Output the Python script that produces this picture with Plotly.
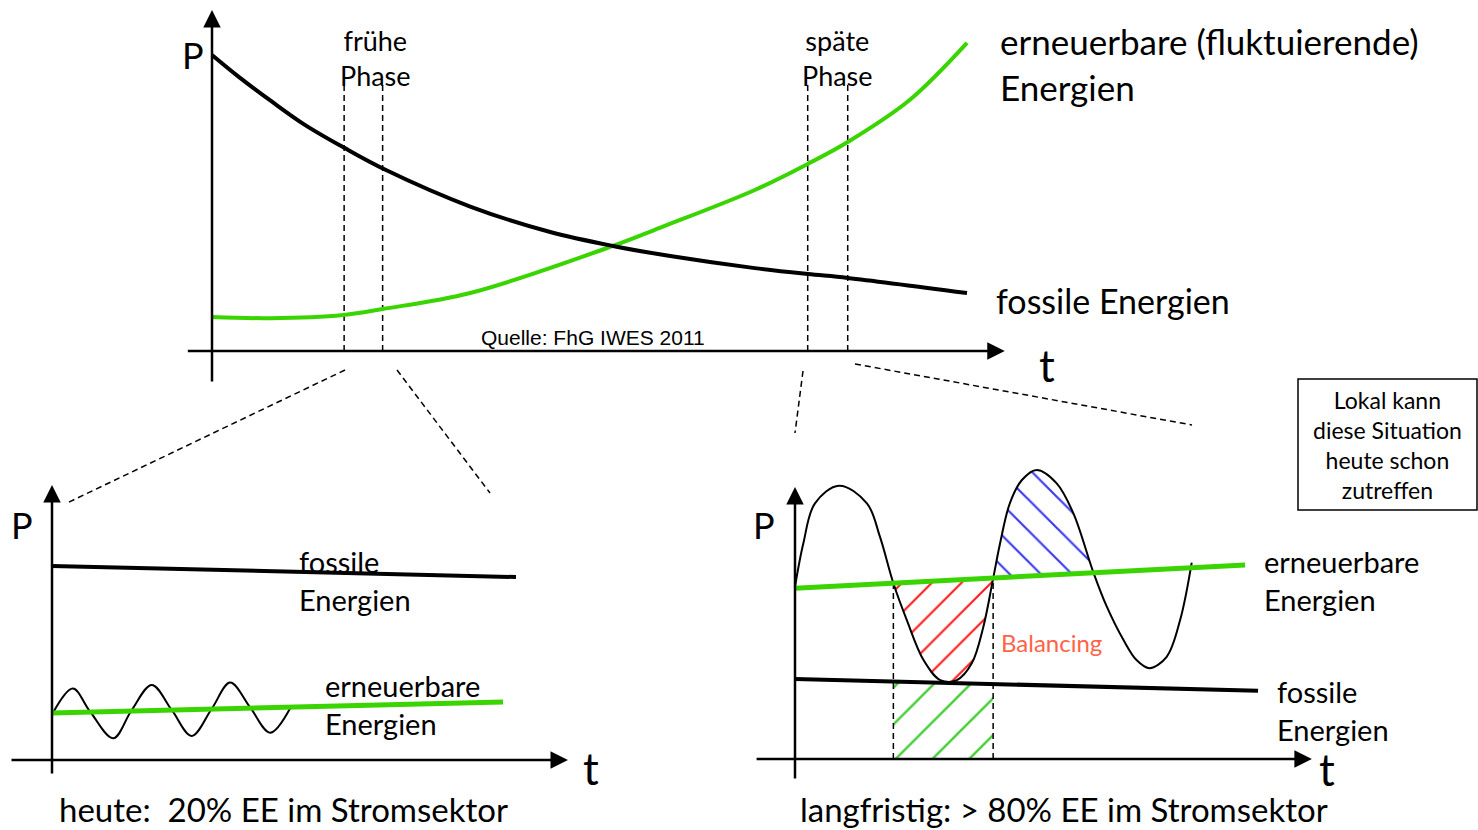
import numpy as np
import plotly.graph_objects as go

W, H = 1478, 830
FONT = "Lato"
GREEN = "#3AD400"

# ---------------- data ----------------
# top panel (long-term development)
top_t_ren = [0, 0.77, 1.74, 2.26, 3.42, 5.31, 5.93, 7.19, 7.89, 8.42, 9.24, 10.0]
top_p_ren = [1.15, 1.11, 1.22, 1.42, 1.96, 3.55, 4.16, 5.44, 6.32, 7.06, 8.48, 10.41]
top_t_fos = [0, 0.35, 0.79, 1.23, 1.74, 2.29, 3.42, 4.48, 5.31, 6.07, 7.19, 7.89, 8.42, 10.0]
top_p_fos = [10.0, 9.27, 8.43, 7.64, 6.88, 6.13, 4.88, 4.02, 3.55, 3.21, 2.80, 2.60, 2.47, 1.96]
phase_early = [1.75, 2.26]
phase_late = [7.89, 8.42]
phase_top = 9.05

# bottom-left panel (today)
bl_t_fos = [0, 10.0]
bl_p_fos = [10.0, 9.43]
bl_t_ren = [0, 9.72]
bl_p_ren = [2.42, 2.99]
bl_t_wave = [0.02, 0.45, 0.82, 1.32, 1.71, 2.15, 2.58, 3.01, 3.44, 3.84, 4.27, 4.70, 5.13]
bl_p_wave = [2.42, 3.68, 2.50, 1.12, 2.54, 3.87, 2.58, 1.24, 2.63, 3.99, 2.71, 1.41, 2.66]

# bottom-right panel (long term)
br_t_fos = [0, 9.98]
br_p_fos = [4.12, 3.52]
br_t_ren = [0, 9.70]
br_p_ren = [8.80, 10.0]
br_t_wave = [0.00, 0.18, 0.43, 0.95, 1.55, 1.83, 2.12, 2.41, 2.77, 3.13, 3.49, 3.81, 4.06,
             4.27, 4.42, 4.63, 4.89, 5.21, 5.64, 6.00, 6.43, 6.72, 7.08, 7.36, 7.64, 8.01,
             8.30, 8.55]
br_p_wave = [8.88, 11.12, 13.18, 14.09, 13.18, 11.46, 9.06, 7.16, 5.10, 4.07, 4.07, 4.93, 6.82,
             9.30, 11.12, 13.18, 14.38, 14.90, 14.21, 12.66, 9.62, 7.85, 6.13, 5.10, 4.68, 5.27,
             7.16, 10.12]
deficit_range = [2.12, 4.27]   # red / balancing window
surplus_range = [4.27, 6.43]   # blue

# ---------------- layout geometry (pixels) ----------------
panels = {
    "top": dict(ox=212, oy=351, sx=75.5, sy=29.6, xa="x", ya="y"),
    "bl": dict(ox=52, oy=760, sx=46.4, sy=19.4, xa="x2", ya="y2"),
    "br": dict(ox=795, oy=759, sx=46.4, sy=19.4, xa="x3", ya="y3"),
}

fig = go.Figure()


def add_line(panel, t, p, color, width, shape="linear", dash=None, **kw):
    pn = panels[panel]
    fig.add_trace(go.Scatter(x=t, y=p, mode="lines", xaxis=pn["xa"], yaxis=pn["ya"],
                             line=dict(color=color, width=width, shape=shape, dash=dash,
                                       smoothing=1.0),
                             hoverinfo="skip", showlegend=False, **kw))


def text(panel, t, p, s, size, xanchor="center", color="black", family=FONT, yanchor="middle"):
    pn = panels[panel]
    fig.add_annotation(x=t, y=p, xref=pn["xa"], yref=pn["ya"], text=s, showarrow=False,
                       xanchor=xanchor, yanchor=yanchor, align=xanchor if xanchor != "center" else "center",
                       font=dict(family=family, size=size, color=color), borderpad=0)


def arrow(panel, t0, p0, t1, p1):
    pn = panels[panel]
    fig.add_annotation(x=t1, y=p1, ax=t0, ay=p0, xref=pn["xa"], yref=pn["ya"],
                       axref=pn["xa"], ayref=pn["ya"], showarrow=True, text="",
                       arrowhead=2, arrowsize=1.4, arrowwidth=2.5, arrowcolor="black", standoff=0)


# ---------------- top panel ----------------
for tp in phase_early + phase_late:
    add_line("top", [tp, tp], [0, phase_top], "black", 1.5, dash="6px,4px")
add_line("top", top_t_ren, top_p_ren, GREEN, 4, shape="spline")
add_line("top", top_t_fos, top_p_fos, "black", 4, shape="spline")
arrow("top", -0.34, 0, 10.50, 0)
arrow("top", 0, -1.08, 0, 11.52)
text("top", -0.25, 10.0, "P", 36)
text("top", 11.06, -0.47, "t", 44)
text("top", 2.16, 9.9, "frühe<br>Phase", 27)
text("top", 8.29, 9.9, "späte<br>Phase", 27)
text("top", 10.42, 9.68, "erneuerbare (fluktuierende)<br>Energien", 35, xanchor="left")
text("top", 10.37, 1.69, "fossile Energien", 34, xanchor="left")
text("top", 5.05, 0.44, "Quelle: FhG IWES 2011", 21, family="Liberation Sans")

# ---------------- bottom-left panel ----------------
add_line("bl", bl_t_wave, bl_p_wave, "black", 2, shape="spline")
add_line("bl", bl_t_ren, bl_p_ren, GREEN, 5)
add_line("bl", bl_t_fos, bl_p_fos, "black", 4)
arrow("bl", -0.905, 0, 11.12, 0)
arrow("bl", 0, -0.77, 0, 14.18)
text("bl", -0.65, 12.11, "P", 36)
text("bl", 11.62, -0.41, "t", 44)
text("bl", 5.30, 9.23, "fossile<br>Energien", 29, xanchor="left")
text("bl", 5.86, 2.84, "erneuerbare<br>Energien", 29, xanchor="left")
text("bl", 4.98, -2.55, "heute:  20% EE im Stromsektor", 33)

# ---------------- bottom-right panel ----------------
wt = np.array(br_t_wave)
wp = np.array(br_p_wave)


def hatch_between(t_lo, t_hi, base_t, base_p, color, shape, size):
    pn = panels["br"]
    m = (wt >= t_lo - 1e-9) & (wt <= t_hi + 1e-9)
    seg_t = wt[m]
    base = np.interp(seg_t, base_t, base_p)
    fig.add_trace(go.Scatter(x=seg_t, y=base, mode="lines", line=dict(width=0),
                             xaxis=pn["xa"], yaxis=pn["ya"], hoverinfo="skip", showlegend=False))
    fig.add_trace(go.Scatter(x=seg_t, y=wp[m], mode="lines",
                             line=dict(width=0, shape="spline", smoothing=1.0),
                             fill="tonexty", fillcolor="rgba(0,0,0,0)",
                             fillpattern=dict(shape=shape, fgcolor=color, bgcolor="rgba(0,0,0,0)",
                                              size=size, solidity=0.1, fillmode="replace"),
                             xaxis=pn["xa"], yaxis=pn["ya"], hoverinfo="skip", showlegend=False))


hatch_between(*deficit_range, br_t_ren, br_p_ren, "#FF1A1A", "/", 21)
hatch_between(*surplus_range, br_t_ren, br_p_ren, "#3B3BF0", "\\", 22)

# green hatch: storage window between axis and fossil line
pn = panels["br"]
fos_win = np.interp(deficit_range, br_t_fos, br_p_fos)
fig.add_trace(go.Scatter(x=deficit_range, y=[0, 0], mode="lines", line=dict(width=0),
                         xaxis=pn["xa"], yaxis=pn["ya"], hoverinfo="skip", showlegend=False))
fig.add_trace(go.Scatter(x=deficit_range, y=fos_win, mode="lines", line=dict(width=0),
                         fill="tonexty", fillcolor="rgba(0,0,0,0)",
                         fillpattern=dict(shape="/", fgcolor="#44CC33", bgcolor="rgba(0,0,0,0)",
                                          size=26, solidity=0.09, fillmode="replace"),
                         xaxis=pn["xa"], yaxis=pn["ya"], hoverinfo="skip", showlegend=False))

ren_win = np.interp(deficit_range, br_t_ren, br_p_ren)
for tt, pp in zip(deficit_range, ren_win):
    add_line("br", [tt, tt], [0, pp], "black", 1.5, dash="6px,4px")
add_line("br", br_t_wave, br_p_wave, "black", 2, shape="spline")
add_line("br", br_t_ren, br_p_ren, GREEN, 5)
add_line("br", br_t_fos, br_p_fos, "black", 4)
arrow("br", -0.86, 0, 11.14, 0)
arrow("br", 0, -1.08, 0, 14.02)
text("br", -0.67, 12.06, "P", 36)
text("br", 11.47, -0.50, "t", 44)
text("br", 10.09, 9.18, "erneuerbare<br>Energien", 29, xanchor="left")
text("br", 10.37, 2.52, "fossile<br>Energien", 29, xanchor="left")
text("br", 4.42, 6.03, "Balancing", 24, xanchor="left", color="#FF6347")
text("br", 5.80, -2.60, "langfristig: > 80% EE im Stromsektor", 33)

# ---------------- decorations (paper coordinates, from pixels) ----------------
connectors = [((345, 370), (67, 503)), ((397, 370), (490, 493)),
              ((803, 371), (795, 433)), ((855, 364), (1192, 425))]
shapes = []
for (x0, y0), (x1, y1) in connectors:
    shapes.append(dict(type="line", xref="paper", yref="paper",
                       x0=x0 / W, y0=1 - y0 / H, x1=x1 / W, y1=1 - y1 / H,
                       line=dict(color="black", width=1.5, dash="6px,4px")))
box = (1298, 379, 1477, 510)
shapes.append(dict(type="rect", xref="paper", yref="paper",
                   x0=box[0] / W, y0=1 - box[3] / H, x1=box[2] / W, y1=1 - box[1] / H,
                   line=dict(color="black", width=1.5), fillcolor="white"))
fig.add_annotation(x=(box[0] + box[2]) / 2 / W, y=1 - (box[1] + box[3]) / 2 / H,
                   xref="paper", yref="paper", showarrow=False, align="center",
                   xanchor="center", yanchor="middle",
                   text="Lokal kann<br>diese Situation<br>heute schon<br>zutreffen",
                   font=dict(family=FONT, size=23, color="black"))

# ---------------- axes ----------------
layout_axes = {}
for i, (name, pn) in enumerate(panels.items()):
    sfx = "" if i == 0 else str(i + 1)
    xr = [(0 - pn["ox"]) / pn["sx"], (W - pn["ox"]) / pn["sx"]]
    yr = [(pn["oy"] - H) / pn["sy"], pn["oy"] / pn["sy"]]
    layout_axes["xaxis" + sfx] = dict(domain=[0, 1], range=xr, visible=False, fixedrange=True,
                                      anchor="y" + sfx)
    layout_axes["yaxis" + sfx] = dict(domain=[0, 1], range=yr, visible=False, fixedrange=True,
                                      anchor="x" + sfx)

fig.update_layout(width=W, height=H, margin=dict(l=0, r=0, t=0, b=0),
                  paper_bgcolor="white", plot_bgcolor="rgba(0,0,0,0)",
                  showlegend=False, shapes=shapes, **layout_axes)

fig.write_html("out.html", config={"displayModeBar": False},
               post_script="document.body.style.margin='0';")
